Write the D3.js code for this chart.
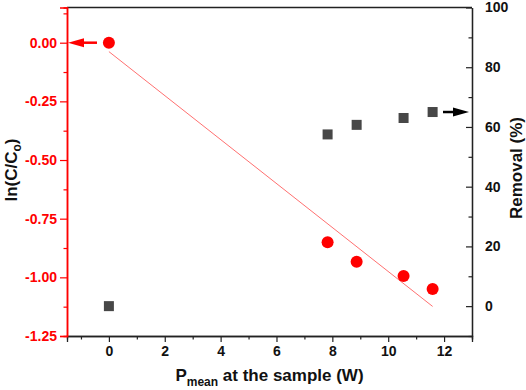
<!DOCTYPE html>
<html>
<head>
<meta charset="utf-8">
<script src="https://cdn.jsdelivr.net/npm/d3@7"></script>
<style>
  body { margin: 0; background: #fff; }
  svg text { font-family: Arial, "Liberation Sans", sans-serif; font-weight: bold; }
</style>
</head>
<body>
<svg id="chart" width="526" height="390"></svg>
<script>
// data
const power = [0, 7.83, 8.87, 10.55, 11.59];        // P mean at the sample (W)
const lnRatio = [0, -0.85, -0.934, -0.994, -1.05];  // ln(C/Co)
const removal = [0, 57.5, 60.7, 63.0, 65.0];        // Removal (%)
const fitX = [0, 11.59];                            // linear fit ends
const fitY = [-0.038, -1.124];

const xTicks = [0, 2, 4, 6, 8, 10, 12];
const xMinor = [-1, 1, 3, 5, 7, 9, 11, 13];
const leftTicks = [0, -0.25, -0.5, -0.75, -1, -1.25];
const leftMinor = [0.125, -0.125, -0.375, -0.625, -0.875, -1.125];
const rightTicks = [0, 20, 40, 60, 80, 100];
const rightMinor = [-10, 10, 30, 50, 70, 90];

const svg = d3.select("#chart");
const plotL = 67, plotR = 472, plotT = 7.5, plotB = 336;
const red = "#ff0000";

const x = d3.scaleLinear().domain([-1.5, 13]).range([plotL, plotR]);
const yL = d3.scaleLinear().domain([-1.25, 0.15]).range([plotB, plotT]);
const yR = d3.scaleLinear().domain([-10, 100]).range([plotB, plotT]);

// frame top line
svg.append("line").attr("x1", plotL).attr("x2", plotR).attr("y1", plotT).attr("y2", plotT)
  .attr("stroke", "#222").attr("stroke-width", 1.3);

// bottom axis
const gx = svg.append("g").attr("transform", `translate(0,${plotB})`);
gx.call(d3.axisBottom(x).tickValues(xTicks).tickSize(6).tickPadding(4).tickFormat(d3.format("d")));
gx.selectAll("text").attr("font-size", 14).attr("fill", "#111");
gx.append("g").call(d3.axisBottom(x).tickValues(xMinor).tickSize(3.5).tickFormat(""));
gx.selectAll(".domain").attr("stroke", "#222").attr("stroke-width", 1.3);
gx.selectAll("line").attr("stroke", "#222").attr("stroke-width", 1.2);

// left axis (red)
const fmtL = d => d3.format(".2f")(d).replace("−", "-");
const gl = svg.append("g").attr("transform", `translate(${plotL},0)`);
gl.call(d3.axisLeft(yL).tickValues(leftTicks).tickSize(7).tickPadding(3).tickFormat(fmtL));
gl.selectAll("text").attr("font-size", 14).attr("fill", red);
gl.append("g").call(d3.axisLeft(yL).tickValues(leftMinor).tickSize(3.5).tickFormat(""));
gl.selectAll(".domain").attr("stroke", red).attr("stroke-width", 1.5);
gl.selectAll("line").attr("stroke", red).attr("stroke-width", 1.2);

// right axis (ticks inward)
const gr = svg.append("g").attr("transform", `translate(${plotR},0)`);
gr.call(d3.axisRight(yR).tickValues(rightTicks).tickSizeInner(-6).tickSizeOuter(0).tickPadding(13));
gr.selectAll("text").attr("font-size", 14).attr("fill", "#111");
gr.append("g").call(d3.axisRight(yR).tickValues(rightMinor).tickSizeInner(-3.5).tickSizeOuter(0).tickFormat(""));
gr.selectAll(".domain").attr("stroke", "#222").attr("stroke-width", 1.3);
gr.selectAll("line").attr("stroke", "#222").attr("stroke-width", 1.2);

// linear fit
svg.append("path")
  .datum(fitX.map((d, i) => [d, fitY[i]]))
  .attr("d", d3.line().x(d => x(d[0])).y(d => yL(d[1])))
  .attr("fill", "none").attr("stroke", "#ff7070").attr("stroke-width", 1);

// removal squares
svg.append("g").selectAll("rect")
  .data(power.map((d, i) => [d, removal[i]]))
  .join("rect")
  .attr("x", d => x(d[0]) - 5).attr("y", d => yR(d[1]) - 5)
  .attr("width", 10).attr("height", 10)
  .attr("fill", "#474747");

// ln circles
svg.append("g").selectAll("circle")
  .data(power.map((d, i) => [d, lnRatio[i]]))
  .join("circle")
  .attr("cx", d => x(d[0])).attr("cy", d => yL(d[1]))
  .attr("r", 6)
  .attr("fill", red);

// arrows pointing to the axes
const arrow = (x0, x1, y, color) => {
  const dir = Math.sign(x1 - x0);
  svg.append("line").attr("x1", x0).attr("x2", x1 - dir * 12).attr("y1", y).attr("y2", y)
    .attr("stroke", color).attr("stroke-width", 2.5);
  svg.append("path")
    .attr("d", `M${x1},${y} L${x1 - dir * 16},${y - 4.5} L${x1 - dir * 16},${y + 4.5} Z`)
    .attr("fill", color);
};
arrow(97, plotL + 1, yL(0), red);
arrow(443, plotR - 3, yR(removal[4]), "#000");

// axis titles
const xt = svg.append("text").attr("x", (plotL + plotR) / 2).attr("y", 381)
  .attr("text-anchor", "middle").attr("font-size", 17).attr("fill", "#111");
xt.append("tspan").text("P");
xt.append("tspan").attr("font-size", 12).attr("dy", 4.5).text("mean");
xt.append("tspan").attr("dy", -4.5).text(" at the sample (W)");

const yt = svg.append("text").attr("transform", "translate(16.5,170) rotate(-90)")
  .attr("text-anchor", "middle").attr("font-size", 17).attr("fill", "#111");
yt.append("tspan").text("ln(C/C");
yt.append("tspan").attr("font-size", 12).attr("dy", 4).text("o");
yt.append("tspan").attr("dy", -4).text(")");

svg.append("text").attr("transform", "translate(522,168) rotate(-90)")
  .attr("text-anchor", "middle").attr("font-size", 17).attr("fill", "#111")
  .text("Removal (%)");
</script>
</body>
</html>
